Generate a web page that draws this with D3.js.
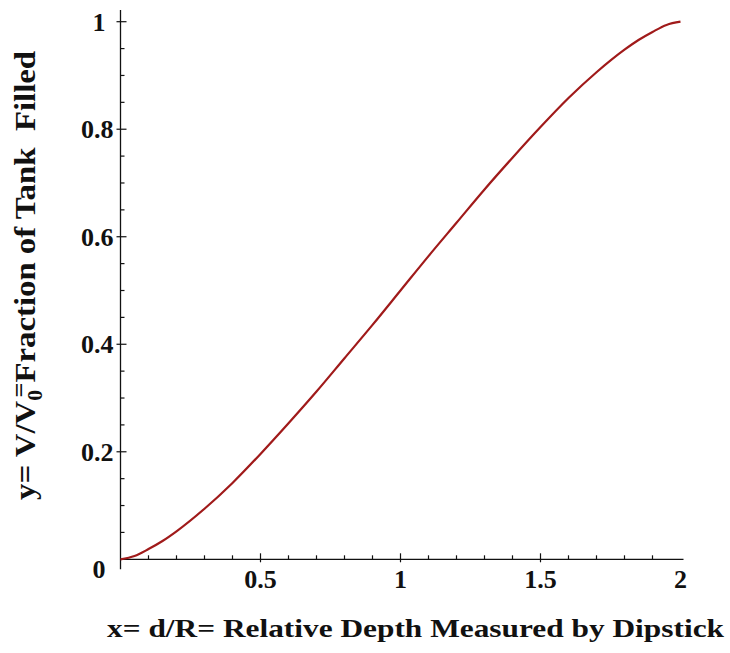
<!DOCTYPE html>
<html>
<head>
<meta charset="utf-8">
<script src="https://cdn.jsdelivr.net/npm/d3@7"></script>
<style>
  body { margin: 0; background: #fff; }
</style>
</head>
<body>
<div id="chart"></div>
<script>
// values
const depth = [0, 0.05, 0.1, 0.15, 0.2, 0.3, 0.4, 0.5, 0.6, 0.7, 0.8, 0.9, 1.0,
  1.1, 1.2, 1.3, 1.4, 1.5, 1.6, 1.7, 1.8, 1.85, 1.9, 1.95, 2.0]
const fraction = [0, 0.006, 0.019, 0.034, 0.052, 0.094, 0.142, 0.196, 0.253, 0.312, 0.374, 0.436, 0.5,
  0.564, 0.626, 0.688, 0.747, 0.804, 0.858, 0.906, 0.948, 0.966, 0.981, 0.994, 1.0]
const xMajor = [0.5, 1, 1.5, 2]
const yMajor = [0, 0.2, 0.4, 0.6, 0.8, 1]
const xMinor = d3.range(1, 20).map(i => i / 10)
const yMinor = d3.range(1, 20).map(i => i / 20)
const xTitle = 'x= d/R= Relative Depth Measured by Dipstick'

const width = 730, height = 653
const margin = ({top: 21.7, right: 49.5, bottom: 93.7, left: 120.5})
const font = "'Times New Roman', Tinos, 'Liberation Serif', 'Nimbus Roman', 'DejaVu Serif', serif"

const data = depth.map((d, i) => ({x: d, y: fraction[i]}))

const svg = d3.select('#chart').append('svg')
  .attr('width', width)
  .attr('height', height)
  .attr('font-family', font)
  .attr('font-weight', 'bold')
  .attr('fill', '#111')

const xScale = d3.scaleLinear()
  .domain([0, 2])
  .range([margin.left, width - margin.right])

const yScale = d3.scaleLinear()
  .domain([0, 1])
  .range([height - margin.bottom, margin.top])

const x0 = xScale(0), y0 = yScale(0)
const isMajor = (list, v) => list.some(m => Math.abs(m - v) < 1e-9)

// axis lines
svg.append('line')
  .attr('x1', x0).attr('x2', xScale(2) + 3)
  .attr('y1', y0).attr('y2', y0)
  .attr('stroke', '#111').attr('stroke-width', 1.3)
svg.append('line')
  .attr('x1', x0).attr('x2', x0)
  .attr('y1', 10).attr('y2', y0 + 10)
  .attr('stroke', '#111').attr('stroke-width', 1.3)

// x ticks
svg.append('g').selectAll('line')
  .data(xMinor)
  .join('line')
  .attr('x1', d => xScale(d)).attr('x2', d => xScale(d))
  .attr('y1', d => isMajor(xMajor, d) ? y0 - 6 : y0 - 4)
  .attr('y2', d => isMajor(xMajor, d) ? y0 + 3 : y0)
  .attr('stroke', '#111').attr('stroke-width', 1.2)

svg.append('g').selectAll('text')
  .data(xMajor)
  .join('text')
  .attr('x', d => xScale(d))
  .attr('y', y0 + 29)
  .attr('text-anchor', 'middle')
  .attr('font-size', 26)
  .text(d => d)

// y ticks
svg.append('g').selectAll('line')
  .data(yMinor.concat([1]))
  .join('line')
  .attr('y1', d => yScale(d)).attr('y2', d => yScale(d))
  .attr('x1', d => isMajor(yMajor, d) ? x0 - 4 : x0)
  .attr('x2', d => isMajor(yMajor, d) ? x0 + 6 : x0 + 4)
  .attr('stroke', '#111').attr('stroke-width', 1.2)

svg.append('g').selectAll('text')
  .data(yMajor)
  .join('text')
  .attr('x', d => Number.isInteger(d) ? x0 - 15 : x0 - 7)
  .attr('y', d => yScale(d) + (d === 0 ? 19 : 9))
  .attr('text-anchor', 'end')
  .attr('font-size', 26)
  .text(d => d)

// curve
const line = d3.line()
  .x(d => xScale(d.x))
  .y(d => yScale(d.y))
  .curve(d3.curveMonotoneX)

svg.append('path')
  .datum(data)
  .attr('d', line)
  .attr('fill', 'none')
  .attr('stroke', '#a01a1a')
  .attr('stroke-width', 2.2)

// axis titles
svg.append('text')
  .attr('x', 107)
  .attr('y', 637)
  .attr('font-size', 26)
  .attr('textLength', 617)
  .attr('lengthAdjust', 'spacingAndGlyphs')
  .text(xTitle)

const yt = svg.append('text')
  .attr('transform', 'translate(35,500) rotate(-90)')
  .attr('font-size', 30)
yt.append('tspan').text('y= V/V')
yt.append('tspan').attr('font-size', 20).attr('dy', 7).text('0')
yt.append('tspan').attr('dx', -7).attr('dy', -15).attr('font-size', 24).text('=')
yt.append('tspan').attr('dy', 8).text('Fraction of Tank \u00a0Filled')

// squeeze the rotated title to the length it has in the picture
const ytLen = yt.node().getComputedTextLength()
yt.attr('transform', `translate(35,500) rotate(-90) scale(${457 / ytLen},1)`)
</script>
</body>
</html>
